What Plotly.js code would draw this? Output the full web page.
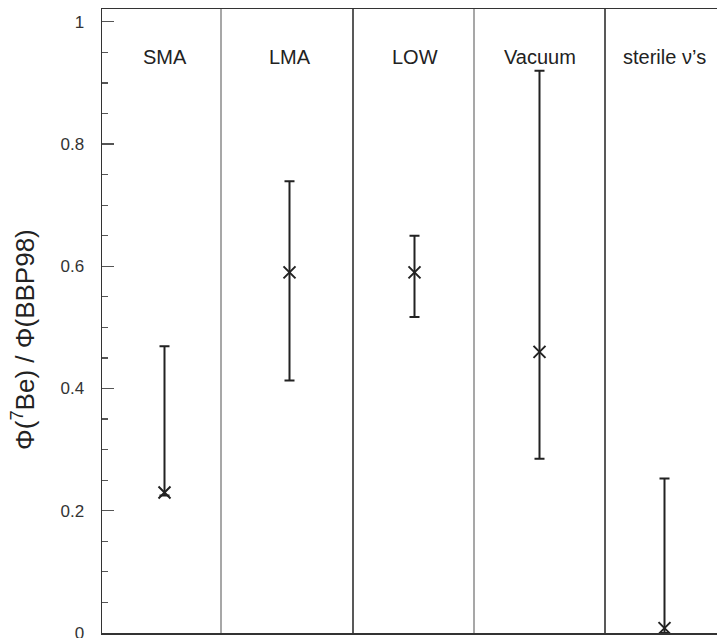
<!DOCTYPE html>
<html>
<head>
<meta charset="utf-8">
<script src="https://cdn.plot.ly/plotly-3.0.1.min.js"></script>
<style>html,body{margin:0;padding:0;background:#fff;}#chart{width:717px;height:638px;}</style>
</head>
<body>
<div id="chart"></div>
<script>
// Data
const categories = ["SMA", "LMA", "LOW", "Vacuum", "sterile \u03bd\u2019s"];
const central = [0.23, 0.59, 0.59, 0.46, 0.008];
const upper   = [0.469, 0.739, 0.650, 0.920, 0.253];
const lower   = [0.225, 0.413, 0.517, 0.285, 0.0];
const dividers = [0.452, 1.508, 2.476, 3.524];
const dividerColors = ["#8a8a8a", "#222222", "#8a8a8a", "#222222"];
const yTickVals = [0, 0.2, 0.4, 0.6, 0.8, 1];
const yTickText = ["0", "0.2", "0.4", "0.6", "0.8", "1"];

const xs = categories.map((c, i) => i);

const trace = {
  type: "scatter",
  mode: "markers",
  x: xs,
  y: central,
  marker: {symbol: "x-thin-open", size: 12, color: "#222", line: {color: "#222", width: 2}},
  error_y: {
    type: "data",
    symmetric: false,
    array: upper.map((u, i) => u - central[i]),
    arrayminus: central.map((c, i) => c - lower[i]),
    color: "#222",
    thickness: 2,
    width: 5
  },
  hoverinfo: "skip",
  showlegend: false,
  cliponaxis: false
};

const shapes = dividers.map((d, i) => ({
  type: "line", xref: "x", yref: "paper",
  x0: d, x1: d, y0: 0, y1: 1,
  line: {color: dividerColors[i], width: 1.5},
  layer: "below"
}));

const annotations = categories.map((c, i) => ({
  x: i, y: 0.943, xref: "x", yref: "y",
  text: c, showarrow: false,
  xanchor: "center", yanchor: "middle",
  font: {family: "Liberation Sans, Arial, sans-serif", size: 20, color: "#222"}
}));
annotations.push({
  xref: "paper", yref: "y", x: -0.128, y: 0.48,
  text: "\u03a6(<sup>7</sup>Be) / \u03a6(BBP98)",
  textangle: -90, showarrow: false,
  xanchor: "center", yanchor: "middle",
  font: {family: "Liberation Sans, Arial, sans-serif", size: 26, color: "#222"}
});

const layout = {
  width: 717, height: 638,
  margin: {l: 102, r: 0, t: 9, b: 5},
  paper_bgcolor: "#fff", plot_bgcolor: "#fff",
  font: {family: "Liberation Sans, Arial, sans-serif", color: "#333"},
  xaxis: {
    range: [-0.5, 4.42], showgrid: false, zeroline: false,
    showticklabels: false, ticks: "",
    showline: true, mirror: true, linecolor: "#333", linewidth: 1.5
  },
  yaxis: {
    range: [0, 1.021], showgrid: false, zeroline: false,
    showline: true, linecolor: "#333", linewidth: 1.5,
    tickmode: "array", tickvals: yTickVals, ticktext: yTickText,
    ticks: "inside", ticklen: 12, tickwidth: 1.2, tickcolor: "#555",
    ticklabelstandoff: 13, ticklabeloverflow: "allow",
    tickfont: {family: "Liberation Sans, Arial, sans-serif", size: 17, color: "#333"},
    minor: {ticks: "inside", ticklen: 6, dtick: 0.05, tick0: 0, tickcolor: "#555", tickwidth: 1.2}
  },
  shapes: shapes,
  annotations: annotations
};

Plotly.newPlot("chart", [trace], layout, {staticPlot: true, displayModeBar: false});
</script>
</body>
</html>
